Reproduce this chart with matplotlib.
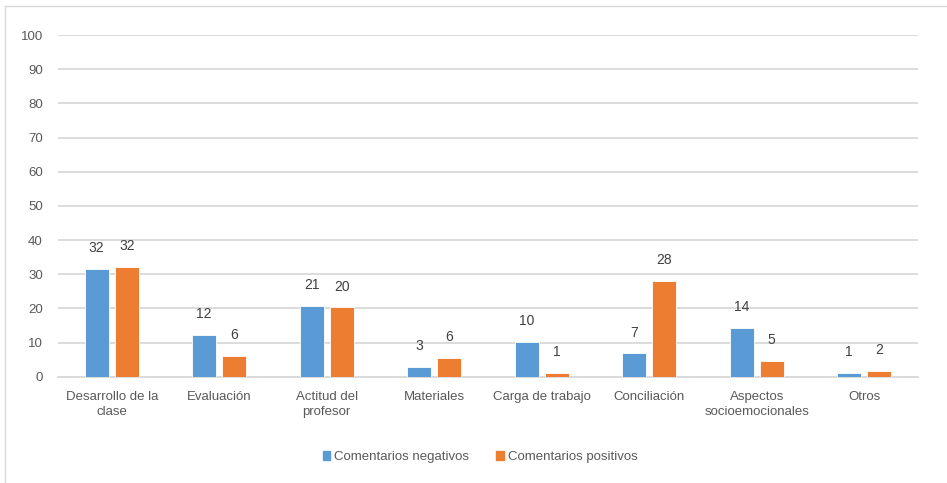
import matplotlib
matplotlib.use("Agg")
import matplotlib.pyplot as plt
import numpy as np
from matplotlib.lines import Line2D
from matplotlib.patches import Patch

plt.rcParams['font.family'] = ['Liberation Sans', 'DejaVu Sans']

categories = ["Desarrollo de la\nclase", "Evaluación", "Actitud del\nprofesor", "Materiales",
              "Carga de trabajo", "Conciliación", "Aspectos\nsocioemocionales", "Otros"]
negativos = [31.5, 12.2, 20.6, 2.9, 10.2, 6.8, 14.2, 1.0]
positivos = [32.1, 6.1, 20.3, 5.6, 1.2, 28.1, 4.6, 1.6]
series_names = ["Comentarios negativos", "Comentarios positivos"]
yticks = [0, 10, 20, 30, 40, 50, 60, 70, 80, 90, 100]

W, H = 947, 483
fig = plt.figure(figsize=(W / 100, H / 100), dpi=100)
ax = fig.add_axes([58 / W, 1 - 376.7 / H, (918 - 58) / W, (376.7 - 35) / H])

blue = "#5B9BD5"
orange = "#ED7D31"
text_col = "#595959"
fs = 9.5

x = np.arange(len(categories))
bw = 0.22
off = 0.14
b1 = ax.bar(x - off, negativos, bw, color=blue, edgecolor="white", linewidth=0.6, zorder=3)
b2 = ax.bar(x + off, positivos, bw, color=orange, edgecolor="white", linewidth=0.6, zorder=3)

for bars, vals in ((b1, negativos), (b2, positivos)):
    for r, v in zip(bars, vals):
        ax.annotate(f"{round(v):d}", (r.get_x() + r.get_width() / 2, v),
                    xytext=(0, 15), textcoords="offset points",
                    ha="center", va="center", fontsize=10, color="#404040")

ax.set_xlim(-0.5, len(categories) - 0.5)
ax.set_ylim(0, 100)
ax.set_yticks(yticks)
ax.set_xticks(x)
ax.set_xticklabels(categories, fontsize=fs, color=text_col, linespacing=1.35)
ax.tick_params(axis="y", length=0, pad=11, labelsize=fs, labelcolor=text_col)
ax.tick_params(axis="x", length=0, pad=10)
ax.grid(axis="y", color="#D9D9D9", linewidth=1.3, zorder=0)
ax.set_axisbelow(True)
for s in ("top", "right", "left"):
    ax.spines[s].set_visible(False)
ax.spines["bottom"].set_color("#D9D9D9")
ax.spines["bottom"].set_linewidth(1.3)

handles = [Patch(color=blue), Patch(color=orange)]
fig.legend(handles, series_names, loc="center", bbox_to_anchor=(480 / W, 1 - 457 / H),
           ncol=2, frameon=False, fontsize=fs, labelcolor=text_col,
           handlelength=0.6, handleheight=0.6, handletextpad=0.3, columnspacing=2.0)

# outer frame lines
fig.add_artist(Line2D([5 / W, 1], [1 - 6 / H, 1 - 6 / H], color="#D9D9D9", linewidth=1.0))
fig.add_artist(Line2D([5 / W, 5 / W], [0, 1 - 6 / H], color="#D9D9D9", linewidth=1.0))

fig.savefig("out.png", dpi=100)
